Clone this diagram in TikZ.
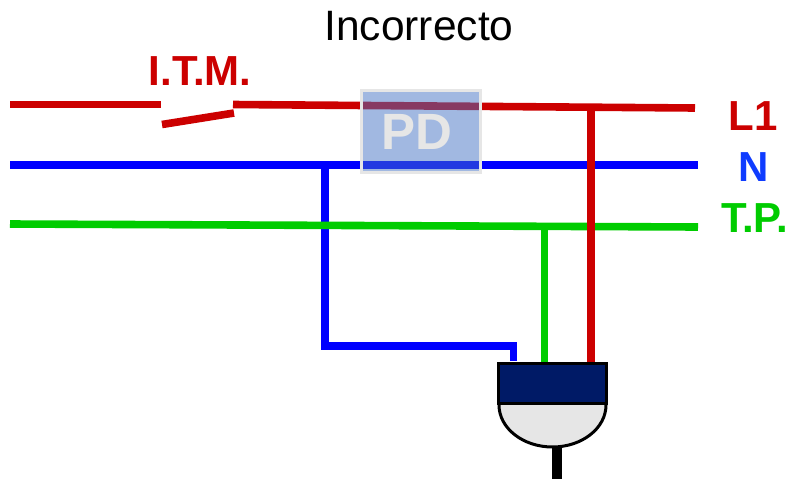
\documentclass[tikz,border=0pt]{standalone}
\usepackage{fontspec}
\setmainfont{Liberation Sans}
\definecolor{wirered}{HTML}{CC0000}
\definecolor{wireblue}{HTML}{0000FF}
\definecolor{wiregreen}{HTML}{00CC00}
\definecolor{labelblue}{HTML}{0F3CFF}
\definecolor{pdblue}{HTML}{4472C4}
\definecolor{pdgray}{HTML}{E6E6E6}
\definecolor{plugblue}{HTML}{001A66}
\tikzset{
    wire/.style={line width=7.6pt},
    phaselabel/.style={inner sep=0pt, font=\bfseries\fontsize{42}{48}\selectfont},
}

\begin{document}
\begin{tikzpicture}[x=1pt, y=-1pt]
    \useasboundingbox (0, 0) rectangle (788, 480);

    \coordinate (redstart) at (10, 104.5);
    \coordinate (redopen) at (161, 104.5);
    \coordinate (redclose) at (233, 104.5);
    \coordinate (redend) at (695, 108);
    \coordinate (redtap) at (591, 107.5);
    \coordinate (bladestart) at (162, 124.5);
    \coordinate (bladeend) at (234, 113);
    \coordinate (bluestart) at (10, 165);
    \coordinate (blueend) at (698, 165);
    \coordinate (bluetap) at (325, 165);
    \coordinate (bluecorner) at (325, 346);
    \coordinate (blueplug) at (513.5, 346);
    \coordinate (greenstart) at (10, 224);
    \coordinate (greenend) at (698, 227);
    \coordinate (greentap) at (544.5, 226.5);

    \draw[line width=8pt, color=wireblue] (bluestart) -- (blueend);
    \draw[wire, color=wireblue, line cap=rect] (bluetap) -- (bluecorner) -- (blueplug);
    \draw[wire, color=wiregreen] (greenstart) -- (greenend);
    \draw[wire, color=wiregreen] (greentap) -- (544.5, 362);
    \draw[wire, color=wirered] (redstart) -- (redopen);
    \draw[wire, color=wirered] (redclose) -- (redend);
    \draw[wire, color=wirered] (bladestart) -- (bladeend);
    \draw[wire, color=wirered] (redtap) -- (591, 362);

    % plug
    \draw[line width=10pt] (557, 445) -- (557, 479);
    \draw[line width=3pt, fill=pdgray] (499, 405) arc[start angle=180, end angle=360, x radius=53.5, y radius=-42];
    \node[draw, line width=3pt, fill=plugblue, minimum width=108pt, minimum height=40pt, inner sep=0pt] (plugbody) at (552.5, 383.5) {};
    \draw[wire, color=wireblue] (blueplug) -- (513.5, 361);

    \node[draw=pdgray, line width=3pt, fill=pdblue, fill opacity=0.5, draw opacity=1, text opacity=1,
        text=pdgray, minimum width=119pt, minimum height=82pt, inner sep=0pt,
        font=\bfseries\fontsize{51}{58}\selectfont] (pd) at (421, 131.5) {PD\kern9pt};

    \node[inner sep=0pt, font=\fontsize{42.5}{48}\selectfont] (title) at (419, 26) {Incorrecto};
    \node[phaselabel, text=wirered] (itm) at (200, 71) {I.T.M.};
    \node[phaselabel, text=wirered] (lone) at (753.5, 116) {L1};
    \node[phaselabel, text=labelblue] (neutral) at (754, 167) {N};
    \node[phaselabel, text=wiregreen] (tierra) at (754.5, 218) {T.P.};
\end{tikzpicture}
\end{document}
